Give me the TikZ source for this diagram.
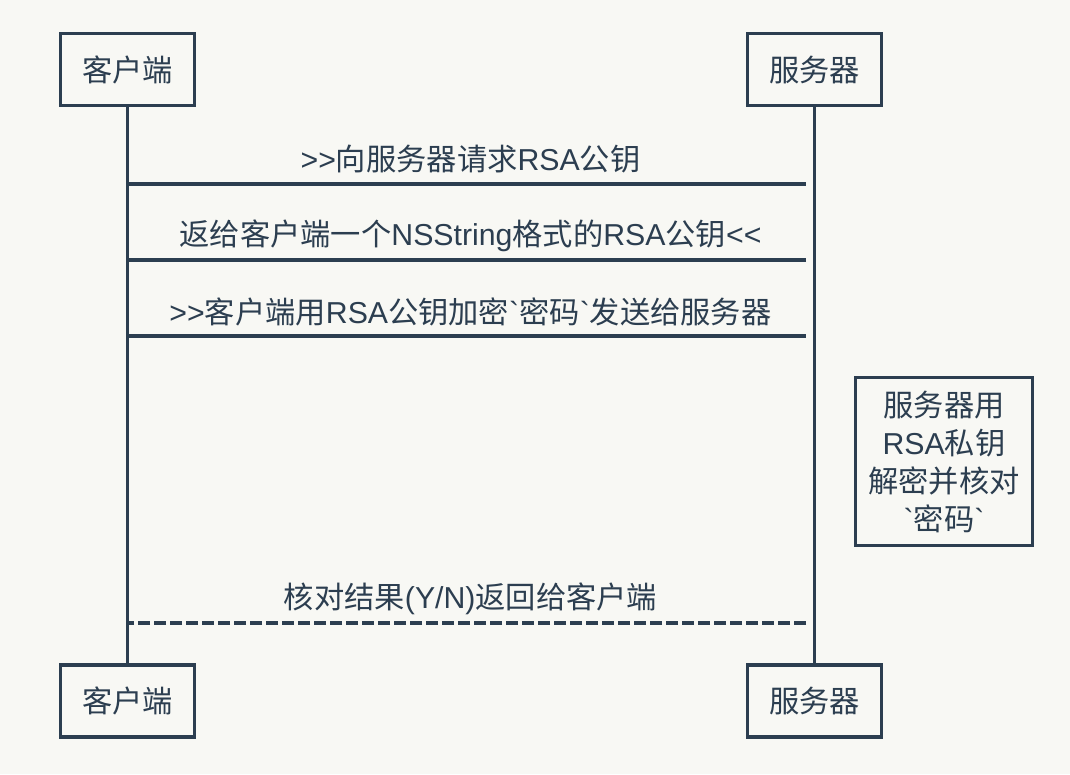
\documentclass[tikz,border=0pt]{standalone}
\usepackage{fontspec}
\setmainfont{Liberation Sans}[Ligatures=TeXOff]
\newfontfamily\latf{Liberation Sans}[Ligatures=TeXOff]
\newfontfamily\cjkf{Noto Sans CJK SC}[Ligatures=TeXOff]
\newcommand{\C}[1]{{\cjkf #1}}
\definecolor{ink}{HTML}{2C3E50}
\definecolor{bg}{HTML}{F8F8F4}
\begin{document}
\begin{tikzpicture}[x=0.75pt,y=-0.75pt,
  every node/.style={text=ink, font=\latf\fontsize{22.7pt}{28.5pt}\selectfont},
  actor/.style={draw=ink, line width=2.9pt, fill=bg, minimum width=134*0.75pt, minimum height=72*0.75pt, inner sep=0pt},
  notebox/.style={draw=ink, line width=2.9pt, fill=bg, minimum width=177*0.75pt, minimum height=168*0.75pt, inner sep=0pt, align=center},
  life/.style={draw=ink, line width=2.4pt},
  msg/.style={draw=ink, line width=2.4pt},
  reply/.style={msg, dash pattern=on 9pt off 3pt},
  lbl/.style={anchor=center, inner sep=0pt}]
\fill[bg] (0,0) rectangle (1070,774);
\useasboundingbox (0,0) rectangle (1070,774);
% actors
\node[actor] (c1) at (127.5,69.5) {\C{客户端}};
\node[actor] (s1) at (814.5,69.5) {\C{服务器}};
\node[actor] (c2) at (127.5,701) {\C{客户端}};
\node[actor] (s2) at (814.5,701) {\C{服务器}};
% lifelines
\draw[life] (c1) -- (c2);
\draw[life] (s1) -- (s2);
% message endpoints
\coordinate (m1a) at (127.5,184); \coordinate (m1b) at (806,184);
\coordinate (m2a) at (127.5,260); \coordinate (m2b) at (806,260);
\coordinate (m3a) at (127.5,336); \coordinate (m3b) at (806,336);
\coordinate (m4a) at (127.5,623); \coordinate (m4b) at (806,623);
\draw[msg] (m1a) -- (m1b);
\draw[msg] (m2b) -- (m2a);
\draw[msg] (m3a) -- (m3b);
\draw[reply] (m4b) -- (m4a);
% labels
\node[lbl] (t1) at (470.5,159) {>>\C{向服务器请求}RSA\C{公钥}};
\node[lbl] (t2) at (470.5,236) {\C{返给客户端一个}NSString\C{格式的}RSA\C{公钥}<<};
\node[lbl] (t3) at (470.5,312) {>>\C{客户端用}RSA\C{公钥加密}`\C{密码}`\C{发送给服务器}};
\node[lbl] (t4) at (470.5,599) {\C{核对结果}(Y/N)\C{返回给客户端}};
% note
\node[notebox] (note) at (944,461.5) {\C{服务器用}\\RSA\C{私钥}\\\C{解密并核对}\\`\C{密码}`};
\end{tikzpicture}
\end{document}
